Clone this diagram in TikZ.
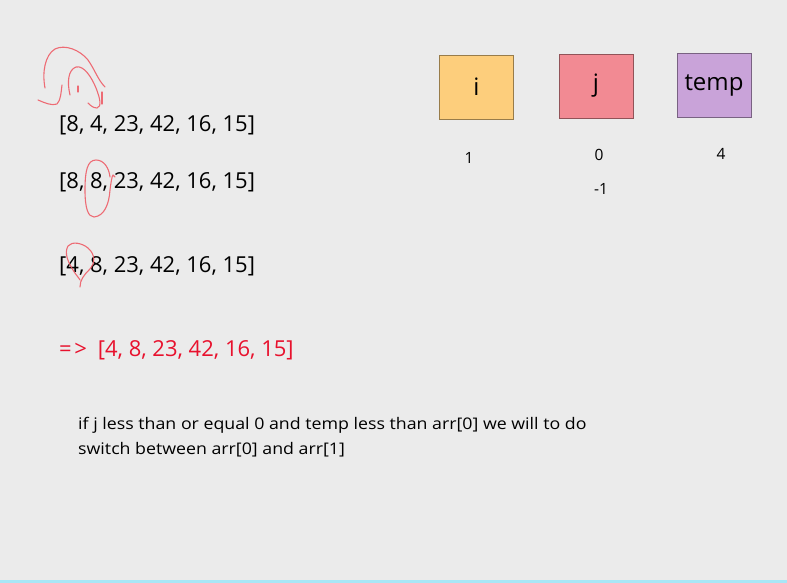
\documentclass[tikz,border=0pt]{standalone}
\usepackage{fontspec}
\setmainfont{Open Sans}
\newfontfamily\notefont[FakeStretch=1.11]{Open Sans}
\definecolor{bg}{HTML}{EBEBEB}
\definecolor{cyanline}{HTML}{A8E6F6}
\definecolor{boxi}{HTML}{FDCE7C}
\definecolor{boxj}{HTML}{F28A93}
\definecolor{boxt}{HTML}{C9A3D9}
\definecolor{redtxt}{HTML}{E8112D}
\definecolor{pen}{HTML}{EE5560}
\tikzset{
  arr/.style={anchor=west, inner sep=0pt, font=\fontsize{22}{26}\selectfont},
  varbox/.style={draw=#1!60!black, fill=#1, minimum width=74pt, minimum height=64pt, inner sep=0pt, font=\fontsize{24}{28}\selectfont},
  num/.style={inner sep=0pt, font=\fontsize{15.5}{18}\selectfont},
  note/.style={anchor=west, inner sep=0pt, font=\notefont\fontsize{16}{19}\selectfont},
  ink/.style={draw=pen, line width=1.1pt, line cap=round, line join=round, opacity=0.85}
}
\begin{document}
\begin{tikzpicture}[x=1pt,y=-1pt]
\fill[bg] (0,0) rectangle (787,583);
\useasboundingbox (0,0) rectangle (787,583);
\fill[cyanline] (0,579.5) rectangle (787,583);

% arrays
\node[arr] (a1) at (59,125) {[8, 4, 23, 42, 16, 15]};
\node[arr] (a2) at (59,182) {[8, 8, 23, 42, 16, 15]};
\node[arr] (a3) at (59,266) {[4, 8, 23, 42, 16, 15]};
\node[arr, text=redtxt] (res) at (59,350) {=\hspace{2.5pt}>\hspace{11pt}[4, 8, 23, 42, 16, 15]};

% note
\node[note] (n1) at (78,425) {if j less than or equal 0 and temp less than arr[0] we will to do};
\node[note] (n2) at (78,450) {switch between arr[0] and arr[1]};

% variable boxes
\node[varbox=boxi] (bi) at (476.5,87) {i};
\node[varbox=boxj] (bj) at (596,86) {j};
\node[varbox=boxt] (bt) at (714,85) {temp};

\node[num] (vi) at (469,158) {1};
\node[num] (vj) at (599,155) {0};
\node[num] (vj2) at (601,189) {-1};
\node[num] (vt) at (721,154) {4};

% pen strokes
\draw[ink] (45,88) .. controls (42,72) and (45,55) .. (55,49) .. controls (65,44) and (80,50) .. (88,60) .. controls (95,70) and (98,80) .. (105,87);
\draw[ink] (38,100) .. controls (45,103) and (52,106) .. (57,104) .. controls (61,100) and (61,92) .. (62,85);
\draw[ink] (70,95) .. controls (67,82) and (68,70) .. (76,67) .. controls (84,65) and (92,78) .. (96,88) .. controls (100,98) and (102,107) .. (97,108) .. controls (93,108) and (90,105) .. (88,103);
\draw[ink] (78,86) -- (78,92);
\draw[ink] (102,92) -- (102,104);
\draw[ink] (110,177) .. controls (109,168) and (104,160) .. (96,160) .. controls (87,160) and (85,172) .. (85,190) .. controls (85,208) and (88,217) .. (94,217) .. controls (104,216) and (109,205) .. (110,190) .. controls (111,182) and (112,176) .. (113,175) -- (115,177);
\draw[ink] (80,287) .. controls (80,280) and (84,275) .. (89,270) .. controls (95,264) and (96,255) .. (88,248) .. controls (82,243) and (72,241) .. (68,246) .. controls (64,253) and (68,262) .. (73,270) .. controls (76,275) and (79,278) .. (80,280);
\end{tikzpicture}
\end{document}
